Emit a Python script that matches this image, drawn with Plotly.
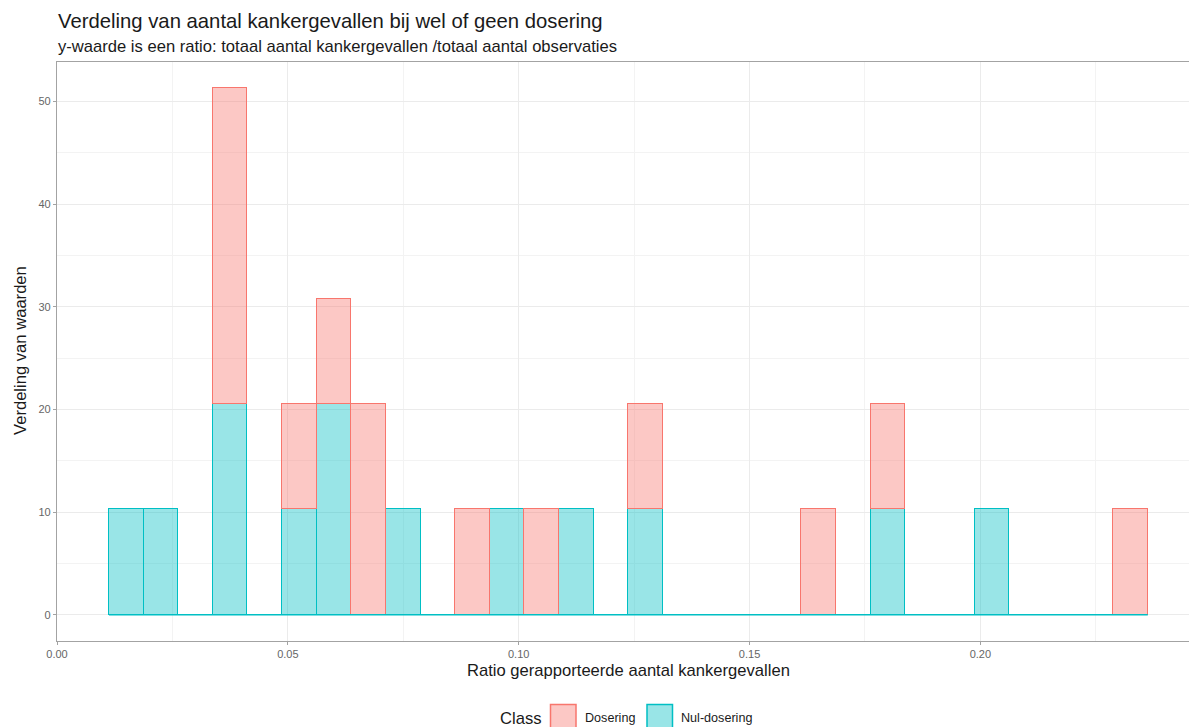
import plotly.graph_objects as go

# ---- data (ratio per observation, per class) ----
dosering = [0.0375, 0.0375, 0.0375, 0.0525, 0.06, 0.0675, 0.0675,
            0.09, 0.105, 0.1275, 0.165, 0.18, 0.2325]
nul_dosering = [0.015, 0.0225, 0.0375, 0.0375, 0.0525, 0.06, 0.06,
                0.075, 0.0975, 0.1125, 0.1275, 0.18, 0.2025]
class_labels = ["Dosering", "Nul-dosering"]
bin_start = 0.01125
bin_end = 0.23625
bin_size = 0.0075
x_ticks = [0.00, 0.05, 0.10, 0.15, 0.20]
x_tick_text = ["0.00", "0.05", "0.10", "0.15", "0.20"]
y_ticks = [0, 10, 20, 30, 40, 50]

title = "Verdeling van aantal kankergevallen bij wel of geen dosering"
subtitle = "y-waarde is een ratio: totaal aantal kankergevallen /totaal aantal observaties"
x_title = "Ratio gerapporteerde aantal kankergevallen"
y_title = "Verdeling van waarden"
legend_title = "Class"

# ---- styling ----
W, H = 1189, 727
L, R, T, B = 57, 0, 62, 86
FONT = "Liberation Sans, Arial, sans-serif"
PINK, PINK_F = "#F8766D", "rgba(248,118,109,0.4)"
TEAL, TEAL_F = "#00BFC4", "rgba(0,191,196,0.4)"
AXIS = "#a3a3a3"
TXT = "#1a1a1a"
TICK = "#666666"

pw = W - L - R
ph = H - T - B


def px(xp):
    return (xp - L) / pw


def py(yp):
    return (H - B - yp) / ph


xbins = dict(start=bin_start, end=bin_end, size=bin_size)
fig = go.Figure()
# zero baseline across all bins (ggplot draws empty bins as flat outlines)
fig.add_trace(go.Scatter(x=[bin_start, bin_end], y=[0, 0], mode="lines",
                         line=dict(color=TEAL, width=1.5), showlegend=False,
                         hoverinfo="skip"))
fig.add_trace(go.Histogram(x=nul_dosering, xbins=xbins, autobinx=False,
                           histnorm="probability density", name=class_labels[1],
                           marker=dict(color=TEAL_F, line=dict(color=TEAL, width=1.5))))
fig.add_trace(go.Histogram(x=dosering, xbins=xbins, autobinx=False,
                           histnorm="probability density", name=class_labels[0],
                           marker=dict(color=PINK_F, line=dict(color=PINK, width=1.5))))

fig.update_layout(
    width=W, height=H, autosize=False,
    margin=dict(l=L, r=R, t=T, b=B),
    paper_bgcolor="white", plot_bgcolor="white",
    barmode="stack", bargap=0, showlegend=False,
    font=dict(family=FONT, color=TXT),
)
fig.update_xaxes(
    range=[0, pw / 4617.0], tickvals=x_ticks, ticktext=x_tick_text,
    showline=True, linecolor=AXIS, linewidth=1.3, mirror=True,
    ticks="outside", ticklen=3, tickcolor=AXIS, tickwidth=1,
    tickfont=dict(size=11, color=TICK, family=FONT),
    showgrid=True, gridcolor="#ebebeb", gridwidth=1, zeroline=False,
    minor=dict(dtick=0.025, tick0=0, showgrid=True, gridcolor="#f3f3f3", gridwidth=1),
)
fig.update_yaxes(
    range=[-2.564, 53.846], tickvals=y_ticks,
    showline=True, linecolor=AXIS, linewidth=1.3,
    ticks="outside", ticklen=3, tickcolor=AXIS, tickwidth=1,
    tickfont=dict(size=11, color=TICK, family=FONT),
    showgrid=True, gridcolor="#ebebeb", gridwidth=1, zeroline=False,
    minor=dict(dtick=5, tick0=0, showgrid=True, gridcolor="#f3f3f3", gridwidth=1),
)

ann = []
ann.append(dict(text=title, x=px(56), y=py(21), xref="paper", yref="paper",
                xanchor="left", yanchor="middle", showarrow=False,
                font=dict(size=20.3, color=TXT, family=FONT)))
ann.append(dict(text=subtitle, x=px(56), y=py(46), xref="paper", yref="paper",
                xanchor="left", yanchor="middle", showarrow=False,
                font=dict(size=16.6, color=TXT, family=FONT)))
ann.append(dict(text=x_title, x=px(628), y=py(670), xref="paper", yref="paper",
                xanchor="center", yanchor="middle", showarrow=False,
                font=dict(size=16.6, color=TXT, family=FONT)))
ann.append(dict(text=y_title, x=px(20), y=py(351), xref="paper", yref="paper",
                xanchor="center", yanchor="middle", showarrow=False, textangle=-90,
                font=dict(size=16.6, color=TXT, family=FONT)))
ann.append(dict(text=legend_title, x=px(498), y=py(718), xref="paper", yref="paper",
                xanchor="left", yanchor="middle", showarrow=False,
                font=dict(size=16.6, color=TXT, family=FONT)))
ann.append(dict(text=class_labels[0], x=px(583), y=py(718), xref="paper", yref="paper",
                xanchor="left", yanchor="middle", showarrow=False,
                font=dict(size=12.6, color=TXT, family=FONT)))
ann.append(dict(text=class_labels[1], x=px(679), y=py(718), xref="paper", yref="paper",
                xanchor="left", yanchor="middle", showarrow=False,
                font=dict(size=12.6, color=TXT, family=FONT)))
fig.update_layout(annotations=ann)

shapes = [
    dict(type="rect", xref="paper", yref="paper", x0=px(550.5), x1=px(576), y0=py(731),
         y1=py(704.5), fillcolor=PINK_F, line=dict(color=PINK, width=1.5)),
    dict(type="rect", xref="paper", yref="paper", x0=px(647), x1=px(672.5), y0=py(731),
         y1=py(704.5), fillcolor=TEAL_F, line=dict(color=TEAL, width=1.5)),
]
fig.update_layout(shapes=shapes)

fig.write_html("out.html", config={"displayModeBar": False},
               post_script="document.body.style.margin='0';document.body.style.overflow='hidden';")
